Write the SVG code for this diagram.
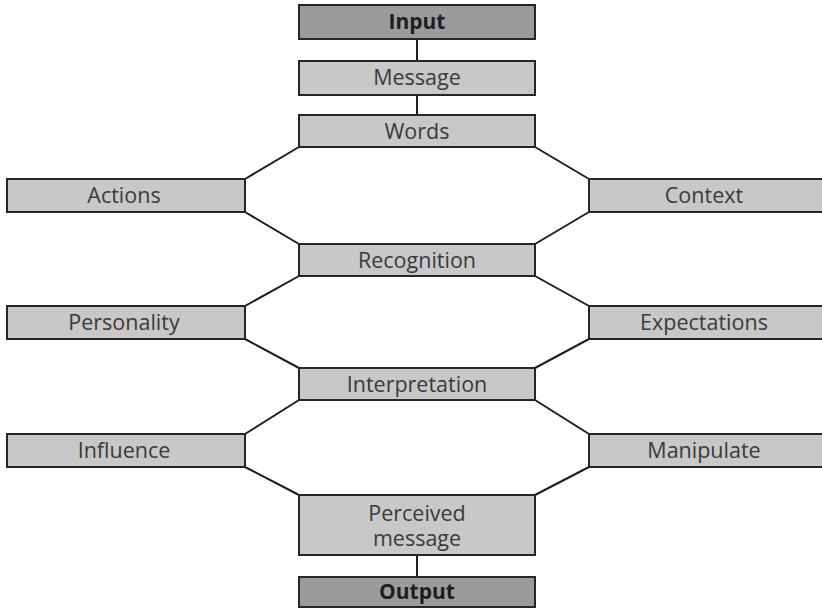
<svg xmlns="http://www.w3.org/2000/svg" width="822" height="610" viewBox="0 0 822 610">
  <style>
    .box { fill: #c8c8c8; stroke: #262626; stroke-width: 2; }
    .dark { fill: #9b9b9b; stroke: #262626; stroke-width: 2; }
    .lbl { font-family: "Open Sans", "DejaVu Sans", sans-serif; font-size: 21.5px; fill: #3a3a3a; text-anchor: middle; }
    .bold { font-weight: 700; fill: #1e1e1e; font-size: 21px; }
    .link { fill: none; stroke: #1e1e1e; stroke-width: 2; }
  </style>
  <rect width="822" height="610" fill="#ffffff"/>

  <!-- connectors -->
  <g id="connectors">
    <line class="link" x1="417" y1="39" x2="417" y2="61"/>
    <line class="link" x1="417" y1="95" x2="417" y2="115"/>
    <line class="link" x1="417" y1="555" x2="417" y2="577"/>
    <!-- left side -->
    <polyline class="link" points="299,147 245,179"/>
    <polyline class="link" points="245,212 299,244"/>
    <polyline class="link" points="299,276 245,306"/>
    <polyline class="link" points="245,339 299,368"/>
    <polyline class="link" points="299,400 245,434"/>
    <polyline class="link" points="245,467 299,495"/>
    <!-- right side -->
    <polyline class="link" points="535,147 589,179"/>
    <polyline class="link" points="589,212 535,244"/>
    <polyline class="link" points="535,276 589,306"/>
    <polyline class="link" points="589,339 535,368"/>
    <polyline class="link" points="535,400 589,434"/>
    <polyline class="link" points="589,467 535,495"/>
  </g>

  <g id="input">
    <rect class="dark" x="299" y="5" width="236" height="34"/>
    <text class="lbl bold" x="417" y="29">Input</text>
  </g>
  <g id="message">
    <rect class="box" x="299" y="61" width="236" height="34"/>
    <text class="lbl" x="417" y="85">Message</text>
  </g>
  <g id="words">
    <rect class="box" x="299" y="115" width="236" height="32"/>
    <text class="lbl" x="417" y="139">Words</text>
  </g>
  <g id="actions">
    <rect class="box" x="7" y="179" width="238" height="33"/>
    <text class="lbl" x="124" y="203">Actions</text>
  </g>
  <g id="context">
    <rect class="box" x="589" y="179" width="240" height="33"/>
    <text class="lbl" x="704" y="203">Context</text>
  </g>
  <g id="recognition">
    <rect class="box" x="299" y="244" width="236" height="32"/>
    <text class="lbl" x="417" y="268">Recognition</text>
  </g>
  <g id="personality">
    <rect class="box" x="7" y="306" width="238" height="33"/>
    <text class="lbl" x="124" y="330">Personality</text>
  </g>
  <g id="expectations">
    <rect class="box" x="589" y="306" width="240" height="33"/>
    <text class="lbl" x="704" y="330">Expectations</text>
  </g>
  <g id="interpretation">
    <rect class="box" x="299" y="368" width="236" height="32"/>
    <text class="lbl" x="417" y="392">Interpretation</text>
  </g>
  <g id="influence">
    <rect class="box" x="7" y="434" width="238" height="33"/>
    <text class="lbl" x="124" y="458">Influence</text>
  </g>
  <g id="manipulate">
    <rect class="box" x="589" y="434" width="240" height="33"/>
    <text class="lbl" x="704" y="458">Manipulate</text>
  </g>
  <g id="perceived-message">
    <rect class="box" x="299" y="495" width="236" height="60"/>
    <text class="lbl" x="417" y="521"><tspan x="417">Perceived</tspan><tspan x="417" dy="25">message</tspan></text>
  </g>
  <g id="output">
    <rect class="dark" x="299" y="577" width="236" height="30"/>
    <text class="lbl bold" x="417" y="599">Output</text>
  </g>
</svg>
